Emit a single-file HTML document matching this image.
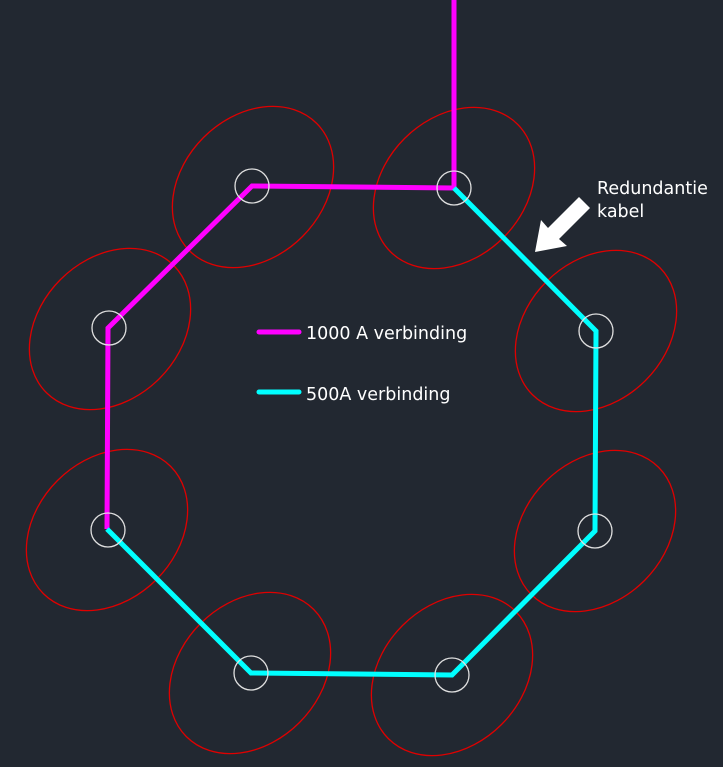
<!DOCTYPE html>
<html><head><style>body{margin:0;background:#222831}svg{display:block}</style></head>
<body>
<svg width="723" height="767" viewBox="0 0 723 767" xmlns="http://www.w3.org/2000/svg">
<rect width="723" height="767" fill="#222831"/>
<g fill="none" stroke="#e00000" stroke-width="1.3">
<ellipse cx="253" cy="187" rx="90" ry="70" transform="rotate(-45 253 187)"/>
<ellipse cx="454" cy="188" rx="90" ry="70" transform="rotate(-45 454 188)"/>
<ellipse cx="596" cy="331" rx="90" ry="70" transform="rotate(-45 596 331)"/>
<ellipse cx="595" cy="531" rx="90" ry="70" transform="rotate(-45 595 531)"/>
<ellipse cx="452" cy="675" rx="90" ry="70" transform="rotate(-45 452 675)"/>
<ellipse cx="250" cy="673" rx="90" ry="70" transform="rotate(-45 250 673)"/>
<ellipse cx="107" cy="530" rx="90" ry="70" transform="rotate(-45 107 530)"/>
<ellipse cx="110" cy="329" rx="90" ry="70" transform="rotate(-45 110 329)"/>
</g>
<g fill="none" stroke-width="5" stroke-linejoin="miter">
<polyline points="454,0 454,188 252,186 108,328 107,529" stroke="#ff00ff"/>
<polyline points="454,188 596,331 595,531 452,675 251,673 107,529" stroke="#00ffff"/>
</g>
<g fill="none" stroke="#e0e0e0" stroke-width="1.3">
<circle cx="252" cy="186" r="17"/><circle cx="454" cy="188" r="17"/>
<circle cx="596" cy="331" r="17"/><circle cx="595" cy="531" r="17"/>
<circle cx="452" cy="675" r="17"/><circle cx="251" cy="673" r="17"/>
<circle cx="108" cy="530" r="17"/><circle cx="109" cy="328" r="17"/>
</g>
<polygon points="579,197 590,208 559,239 567,246 535,252 541,220 548,228" fill="#fff"/>
<line x1="259" y1="332" x2="299" y2="332" stroke="#ff00ff" stroke-width="5" stroke-linecap="round"/>
<line x1="259" y1="392" x2="299" y2="392" stroke="#00ffff" stroke-width="5" stroke-linecap="round"/>
<g font-family="'DejaVu Sans','Liberation Sans',sans-serif" font-size="17.5" fill="#fff">
<text x="306" y="339">1000 A verbinding</text>
<text x="306" y="400">500A verbinding</text>
<text x="597" y="194">Redundantie</text>
<text x="597" y="217">kabel</text>
</g>
</svg>
</body></html>
